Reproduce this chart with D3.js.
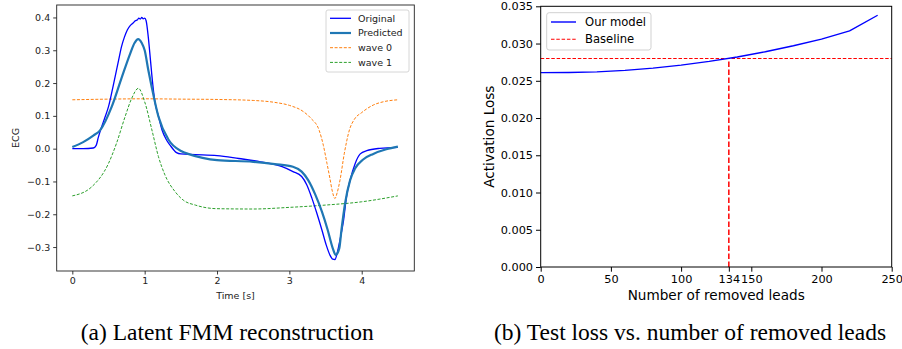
<!DOCTYPE html>
<html>
<head>
<meta charset="utf-8">
<script src="https://cdn.jsdelivr.net/npm/d3@7"></script>
<style>
  html, body { margin: 0; padding: 0; background: #fff; }
  svg { display: block; }
  text { font-family: "DejaVu Sans", sans-serif; }
  text.caption { font-family: "Liberation Serif", "Times New Roman", serif; }
</style>
</head>
<body>
<svg id="chart" width="902" height="349"></svg>
<script>
// ---------- Panel (a): Latent FMM reconstruction ----------
const originalT = [0, 0.15, 0.29, 0.33, 0.36, 0.406, 0.45, 0.5, 0.567, 0.64, 0.68, 0.72, 0.76, 0.80, 0.84, 0.87, 0.90, 0.92, 0.94, 0.96, 0.98, 1.00, 1.02, 1.05, 1.08, 1.11, 1.14, 1.19, 1.24, 1.30, 1.35, 1.44, 1.5, 1.7, 2.0, 2.3, 2.6, 2.9, 3.05, 3.17, 3.24, 3.31, 3.38, 3.45, 3.51, 3.56, 3.60, 3.63, 3.66, 3.70, 3.75, 3.79, 3.84, 3.91, 3.98, 4.07, 4.25, 4.5];
const originalV = [0, 0, 0.002, 0.01, 0.035, 0.067, 0.095, 0.128, 0.194, 0.27, 0.311, 0.34, 0.362, 0.375, 0.383, 0.39, 0.393, 0.398, 0.395, 0.40, 0.396, 0.398, 0.39, 0.34, 0.27, 0.20, 0.145, 0.10, 0.057, 0.027, 0.011, -0.012, -0.016, -0.018, -0.021, -0.03, -0.04, -0.055, -0.07, -0.085, -0.11, -0.15, -0.197, -0.248, -0.294, -0.324, -0.337, -0.338, -0.319, -0.278, -0.217, -0.146, -0.096, -0.045, -0.016, -0.006, 0.001, 0.004];

const predictedT = [0, 0.15, 0.29, 0.38, 0.545, 0.68, 0.80, 0.86, 0.91, 0.96, 1.0, 1.05, 1.1, 1.19, 1.33, 1.51, 1.6, 1.8, 2.0, 2.5, 2.8, 3.05, 3.17, 3.26, 3.36, 3.45, 3.53, 3.6, 3.64, 3.69, 3.72, 3.77, 3.84, 3.91, 4.02, 4.16, 4.34, 4.5];
const predictedV = [0.005, 0.02, 0.04, 0.055, 0.128, 0.215, 0.29, 0.322, 0.334, 0.322, 0.30, 0.24, 0.185, 0.098, 0.027, -0.008, -0.016, -0.028, -0.035, -0.040, -0.047, -0.055, -0.07, -0.096, -0.141, -0.192, -0.248, -0.304, -0.324, -0.304, -0.248, -0.167, -0.096, -0.06, -0.033, -0.016, -0.002, 0.006];

const wave0T = [0, 0.5, 1, 1.5, 2, 2.5, 2.8, 3.0, 3.2, 3.3, 3.41, 3.47, 3.52, 3.56, 3.59, 3.63, 3.66, 3.70, 3.76, 3.83, 3.9, 4.0, 4.16, 4.3, 4.5];
const wave0V = [0.149, 0.151, 0.152, 0.151, 0.150, 0.147, 0.141, 0.132, 0.112, 0.092, 0.057, 0.01, -0.045, -0.09, -0.126, -0.152, -0.135, -0.096, -0.014, 0.057, 0.09, 0.11, 0.133, 0.143, 0.149];

const wave1T = [0, 0.27, 0.5, 0.61, 0.73, 0.82, 0.913, 1.0, 1.1, 1.19, 1.28, 1.42, 1.54, 1.7, 2.0, 2.5, 3.0, 3.5, 4.0, 4.5];
const wave1V = [-0.144, -0.116, -0.045, 0.016, 0.098, 0.153, 0.184, 0.143, 0.057, -0.024, -0.08, -0.131, -0.158, -0.172, -0.183, -0.184, -0.179, -0.172, -0.162, -0.144];

const ecgXTicks = [0, 1, 2, 3, 4];
const ecgYTicks = [-0.3, -0.2, -0.1, 0.0, 0.1, 0.2, 0.3, 0.4];
const ecgLegendLabels = ["Original", "Predicted", "wave 0", "wave 1"];

// ---------- Panel (b): Test loss vs removed leads ----------
const removedLeads = [0, 20, 40, 60, 80, 100, 120, 140, 160, 180, 200, 220, 240];
const activationLoss = [0.0261, 0.02612, 0.0262, 0.0264, 0.0267, 0.0271, 0.0276, 0.0282, 0.0289, 0.0297, 0.0306, 0.0317, 0.0338];
const baselineLoss = 0.028;
const crossingLeads = 134;
const leadsTicks = [0, 50, 100, 134, 150, 200, 250];
const lossTicks = [0, 0.005, 0.010, 0.015, 0.020, 0.025, 0.030, 0.035];
const lossLegendLabels = ["Our model", "Baseline"];

const captions = ["(a) Latent FMM reconstruction", "(b) Test loss vs. number of removed leads"];

const svg = d3.select("#chart");
svg.append("rect").attr("width", 902).attr("height", 349).attr("fill", "#fff");

// ======= Panel A =======
const A = { l: 56.7, r: 414.3, t: 5, b: 271 };
const xA = d3.scaleLinear().domain([-0.216, 4.727]).range([A.l, A.r]);
const yA = d3.scaleLinear().domain([-0.373, 0.438]).range([A.b, A.t]);
const fsA = 9.5;

const gA = svg.append("g");
const axAx = gA.append("g").attr("transform", `translate(0,${A.b})`)
  .call(d3.axisBottom(xA).tickValues(ecgXTicks).tickFormat(d3.format("d")).tickSize(3.5).tickPadding(3));
const axAy = gA.append("g").attr("transform", `translate(${A.l},0)`)
  .call(d3.axisLeft(yA).tickValues(ecgYTicks).tickFormat(d3.format(".1f")).tickSize(3.5).tickPadding(3));
[axAx, axAy].forEach(g => {
  g.select(".domain").remove();
  g.selectAll("line").attr("stroke", "#222").attr("stroke-width", 0.9);
  g.selectAll("text").attr("font-size", fsA).attr("fill", "#222");
});

function lineA(T, V) {
  return d3.line().x((d, i) => xA(T[i])).y((d, i) => yA(V[i])).curve(d3.curveMonotoneX)(T);
}
gA.append("path").attr("d", lineA(wave0T, wave0V)).attr("fill", "none")
  .attr("stroke", "#ff7f0e").attr("stroke-width", 1).attr("stroke-dasharray", "3,1.6");
gA.append("path").attr("d", lineA(wave1T, wave1V)).attr("fill", "none")
  .attr("stroke", "#2ca02c").attr("stroke-width", 1).attr("stroke-dasharray", "3,1.6");
gA.append("path").attr("d", lineA(originalT, originalV)).attr("fill", "none")
  .attr("stroke", "#0000ff").attr("stroke-width", 1.3).attr("stroke-linejoin", "round");
gA.append("path").attr("d", lineA(predictedT, predictedV)).attr("fill", "none")
  .attr("stroke", "#1f77b4").attr("stroke-width", 2.2).attr("stroke-linejoin", "round");

gA.append("rect").attr("x", A.l).attr("y", A.t).attr("width", A.r - A.l).attr("height", A.b - A.t)
  .attr("fill", "none").attr("stroke", "#222").attr("stroke-width", 0.9);

// legend A
const legA = gA.append("g");
legA.append("rect").attr("x", 326).attr("y", 10).attr("width", 83).attr("height", 62).attr("rx", 2)
  .attr("fill", "#fff").attr("fill-opacity", 0.85).attr("stroke", "#ccc").attr("stroke-width", 0.8);
const legAStyles = [
  { c: "#0000ff", w: 1.3, d: null },
  { c: "#1f77b4", w: 2.2, d: null },
  { c: "#ff7f0e", w: 1, d: "3,1.6" },
  { c: "#2ca02c", w: 1, d: "3,1.6" }
];
ecgLegendLabels.forEach((lab, i) => {
  const y = 18.3 + i * 14.7;
  legA.append("line").attr("x1", 330).attr("x2", 351).attr("y1", y).attr("y2", y)
    .attr("stroke", legAStyles[i].c).attr("stroke-width", legAStyles[i].w)
    .attr("stroke-dasharray", legAStyles[i].d);
  legA.append("text").attr("x", 358).attr("y", y).attr("dy", "0.35em")
    .attr("font-size", fsA).attr("fill", "#222").text(lab);
});

gA.append("text").attr("x", (A.l + A.r) / 2).attr("y", 296).attr("dy", "0.35em")
  .attr("text-anchor", "middle").attr("font-size", fsA).attr("fill", "#222").text("Time [s]");
gA.append("text").attr("transform", `translate(16,${(A.t + A.b) / 2}) rotate(-90)`).attr("dy", "0.35em")
  .attr("text-anchor", "middle").attr("font-size", fsA).attr("fill", "#222").text("ECG");

// ======= Panel B =======
const B = { l: 540.7, r: 891.7, t: 6.3, b: 267 };
const xB = d3.scaleLinear().domain([0, 250]).range([B.l, B.r]);
const yB = d3.scaleLinear().domain([0, 0.035]).range([B.b, B.t]);
const fsB = 11.3;

const gB = svg.append("g");
const axBx = gB.append("g").attr("transform", `translate(0,${B.b})`)
  .call(d3.axisBottom(xB).tickValues(leadsTicks).tickFormat(d3.format("d")).tickSize(4.7).tickPadding(3));
const axBy = gB.append("g").attr("transform", `translate(${B.l},0)`)
  .call(d3.axisLeft(yB).tickValues(lossTicks).tickFormat(d3.format(".3f")).tickSize(4.7).tickPadding(3));
[axBx, axBy].forEach(g => {
  g.select(".domain").remove();
  g.selectAll("line").attr("stroke", "#000").attr("stroke-width", 1);
  g.selectAll("text").attr("font-size", fsB).attr("fill", "#000");
});

gB.append("line").attr("x1", B.l).attr("x2", B.r).attr("y1", yB(baselineLoss)).attr("y2", yB(baselineLoss))
  .attr("stroke", "#ff0000").attr("stroke-width", 1.1).attr("stroke-dasharray", "3.5,1.8");
gB.append("line").attr("x1", xB(crossingLeads)).attr("x2", xB(crossingLeads)).attr("y1", yB(0)).attr("y2", yB(baselineLoss))
  .attr("stroke", "#ff0000").attr("stroke-width", 1.5).attr("stroke-dasharray", "5.5,2.5");
gB.append("path")
  .attr("d", d3.line().x((d, i) => xB(removedLeads[i])).y((d, i) => yB(activationLoss[i]))(removedLeads))
  .attr("fill", "none").attr("stroke", "#0000ff").attr("stroke-width", 1.4).attr("stroke-linejoin", "round");

gB.append("rect").attr("x", B.l).attr("y", B.t).attr("width", B.r - B.l).attr("height", B.b - B.t)
  .attr("fill", "none").attr("stroke", "#000").attr("stroke-width", 1);

const legB = gB.append("g");
legB.append("rect").attr("x", 546.7).attr("y", 12.7).attr("width", 104.3).attr("height", 37.3).attr("rx", 2.5)
  .attr("fill", "#fff").attr("fill-opacity", 0.85).attr("stroke", "#ccc").attr("stroke-width", 0.9);
const legBStyles = [
  { c: "#0000ff", w: 1.4, d: null },
  { c: "#ff0000", w: 1.1, d: "3.5,1.8" }
];
lossLegendLabels.forEach((lab, i) => {
  const y = 22 + i * 17.3;
  legB.append("line").attr("x1", 551).attr("x2", 576).attr("y1", y).attr("y2", y)
    .attr("stroke", legBStyles[i].c).attr("stroke-width", legBStyles[i].w)
    .attr("stroke-dasharray", legBStyles[i].d);
  legB.append("text").attr("x", 585).attr("y", y).attr("dy", "0.35em")
    .attr("font-size", 11.6).attr("fill", "#000").text(lab);
});

gB.append("text").attr("x", (B.l + B.r) / 2).attr("y", 295).attr("dy", "0.35em")
  .attr("text-anchor", "middle").attr("font-size", 13.6).attr("fill", "#000").text("Number of removed leads");
gB.append("text").attr("transform", `translate(489,${(B.t + B.b) / 2}) rotate(-90)`).attr("dy", "0.35em")
  .attr("text-anchor", "middle").attr("font-size", 13.6).attr("fill", "#000").text("Activation Loss");

// ======= Captions =======
svg.append("text").attr("class", "caption").attr("x", 80.7).attr("y", 340)
  .attr("font-size", 23.5).attr("fill", "#000").text(captions[0]);
svg.append("text").attr("class", "caption").attr("x", 494).attr("y", 340)
  .attr("font-size", 23.5).attr("fill", "#000").text(captions[1]);
</script>
</body>
</html>
